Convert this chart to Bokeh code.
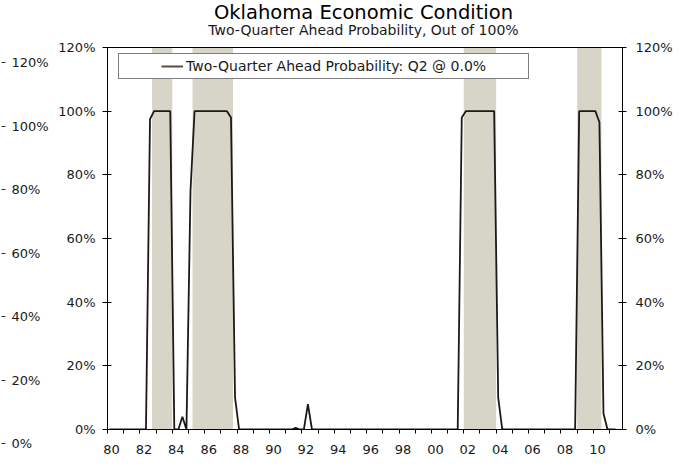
from bokeh.plotting import figure
from bokeh.models import (Range1d, LinearAxis, FixedTicker, PrintfTickFormatter,
                          Legend, LegendItem, Label, Span)
from bokeh.layouts import row
from bokeh.embed import file_html
from bokeh.resources import INLINE

# ---------------- data (quarterly, 1980Q1 .. 2011Q2) ----------------
first_year = 1980
prob = [
    0, 0, 0, 0,            # 1980
    0, 0, 0, 0,            # 1981
    0, 0, 97.5, 100,       # 1982
    100, 100, 100, 100,    # 1983
    0, 0, 4, 0,            # 1984
    75, 100, 100, 100,     # 1985
    100, 100, 100, 100,    # 1986
    100, 100, 98, 10,      # 1987
    0, 0, 0, 0,            # 1988
    0, 0, 0, 0,            # 1989
    0, 0, 0, 0,            # 1990
    0, 0, 0.5, 0,          # 1991
    0, 8, 0, 0,            # 1992
    0, 0, 0, 0,            # 1993
    0, 0, 0, 0,            # 1994
    0, 0, 0, 0,            # 1995
    0, 0, 0, 0,            # 1996
    0, 0, 0, 0,            # 1997
    0, 0, 0, 0,            # 1998
    0, 0, 0, 0,            # 1999
    0, 0, 0, 0,            # 2000
    0, 0, 0, 98,           # 2001
    100, 100, 100, 100,    # 2002
    100, 100, 100, 100,    # 2003
    10, 0, 0, 0,           # 2004
    0, 0, 0, 0,            # 2005
    0, 0, 0, 0,            # 2006
    0, 0, 0, 0,            # 2007
    0, 0, 0, 0,            # 2008
    100, 100, 100, 100,    # 2009
    100, 96.5, 5, 0,       # 2010
    0, 0,                  # 2011
]
recession_start = [1982.75, 1985.25, 2002.0, 2009.0]
recession_end = [1984.0, 1987.75, 2004.0, 2010.5]

y_ticks = [0, 20, 40, 60, 80, 100, 120]
y_max = 120
x_label_years = list(range(1980, 2011, 2))
x_tick_labels = ["80", "82", "84", "86", "88", "90", "92", "94", "96", "98",
                 "00", "02", "04", "06", "08", "10"]
x_minor_years = list(range(1980, 2012))

legend_label = "Two-Quarter Ahead Probability: Q2 @ 0.0%"
title_text = "Oklahoma Economic Condition"
subtitle_text = "Two-Quarter Ahead Probability, Out of 100%"

# quarter mid-points as decimal years
x = [first_year + 0.125 + 0.25 * i for i in range(len(prob))]

FONT = "DejaVu Sans"
TXT = "#1a1a1a"

# ---------------- outer (detached) left axis ----------------
pa = figure(width=52, height=475, x_range=Range1d(0, 1), y_range=Range1d(0, y_max),
            output_backend="svg", toolbar_location=None, frame_align=False,
            min_border_left=0, min_border_right=51, min_border_top=62, min_border_bottom=32,
            x_axis_location=None, y_axis_location="right")
pa.outline_line_color = None
pa.grid.visible = False
pa.title.visible = False
pa.yaxis.ticker = FixedTicker(ticks=y_ticks)
pa.yaxis.formatter = PrintfTickFormatter(format="%d%%")
pa.yaxis.axis_line_color = None
pa.yaxis.major_tick_in = 0
pa.yaxis.major_tick_out = 4
pa.yaxis.major_tick_line_color = "#333333"
pa.yaxis.minor_tick_in = 0
pa.yaxis.minor_tick_out = 0
pa.yaxis.major_label_standoff = 6
pa.yaxis.major_label_text_font = FONT
pa.yaxis.major_label_text_font_size = "13px"
pa.yaxis.major_label_text_color = TXT

# ---------------- main chart ----------------
# frame reaches the top of the canvas so the titles can sit inside it;
# the visible plot box is 0..120 % (47 px below the top)
H, TOP_GAP, BOTTOM = 475, 47, 46
frame_h = H - BOTTOM
y_top = y_max * frame_h / (frame_h - TOP_GAP)

p = figure(width=642, height=H, x_range=Range1d(1980, 2011.8), y_range=Range1d(0, y_top),
           output_backend="svg", toolbar_location=None, frame_align=False,
           min_border_left=55, min_border_right=72, min_border_top=0, min_border_bottom=BOTTOM)
p.outline_line_color = None
p.grid.visible = False
p.title.visible = False

p.quad(left=recession_start, right=recession_end, bottom=0, top=y_max,
       fill_color="#D7D4C8", line_color=None)
line_r = p.line(x, prob, line_color="#1c1917", line_width=1.8)
p.add_layout(Span(location=y_max, dimension="width", line_color="black", line_width=1))

# x axis
p.xaxis.ticker = FixedTicker(ticks=[yr + 0.25 for yr in x_label_years], minor_ticks=x_minor_years)
p.xaxis.major_label_overrides = {yr + 0.25: lab for yr, lab in zip(x_label_years, x_tick_labels)}
p.xaxis.major_tick_in = 0
p.xaxis.major_tick_out = 0
p.xaxis.minor_tick_in = 0
p.xaxis.minor_tick_out = 4
p.xaxis.minor_tick_line_color = "black"
p.xaxis.axis_line_color = "black"
p.xaxis.major_label_standoff = 11
p.xaxis.major_label_text_font = FONT
p.xaxis.major_label_text_font_size = "13px"
p.xaxis.major_label_text_color = TXT

# left y axis
p.yaxis.bounds = (0, y_max)
p.yaxis.ticker = FixedTicker(ticks=y_ticks)
p.yaxis.formatter = PrintfTickFormatter(format="%d%%")
p.yaxis.major_tick_in = 4
p.yaxis.major_tick_out = 5
p.yaxis.minor_tick_in = 0
p.yaxis.minor_tick_out = 0
p.yaxis.axis_line_color = "black"
p.yaxis.major_label_standoff = 7
p.yaxis.major_label_text_font = FONT
p.yaxis.major_label_text_font_size = "13px"
p.yaxis.major_label_text_color = TXT

# right y axis
ra = LinearAxis(bounds=(0, y_max), ticker=FixedTicker(ticks=y_ticks),
                formatter=PrintfTickFormatter(format="%d%%"),
                major_tick_in=4, major_tick_out=4, minor_tick_in=0, minor_tick_out=0,
                axis_line_color="black", major_label_standoff=9,
                major_label_text_font=FONT, major_label_text_font_size="13px",
                major_label_text_color=TXT)
p.add_layout(ra, "right")

# titles (screen units, measured from the frame's bottom-left)
p.add_layout(Label(x=256, y=frame_h - 12, x_units="screen", y_units="screen", text=title_text,
                   text_align="center", text_baseline="middle", text_font=FONT,
                   text_font_size="19.5px", text_color="black"))
p.add_layout(Label(x=256, y=frame_h - 29, x_units="screen", y_units="screen", text=subtitle_text,
                   text_align="center", text_baseline="middle", text_font=FONT,
                   text_font_size="14px", text_color=TXT))

# legend
nan = float("nan")
pad_l = p.line([nan], [nan], line_alpha=0)
pad_r = p.line([nan], [nan], line_alpha=0)
proxy = p.line([nan], [nan], line_color="#5b4a3e", line_width=2)
legend = Legend(items=[LegendItem(label=" ", renderers=[pad_l]),
                       LegendItem(label=legend_label, renderers=[proxy]),
                       LegendItem(label="    ", renderers=[pad_r])],
                orientation="horizontal", location=(11, frame_h - 79), margin=0,
                padding=4, spacing=0, glyph_width=22, glyph_height=16,
                label_width=13, label_height=16, label_standoff=3,
                border_line_color="black", border_line_width=1,
                background_fill_color="white", background_fill_alpha=1,
                label_text_font=FONT, label_text_font_size="14px", label_text_color=TXT)
p.add_layout(legend)

layout = row(pa, p)

open("out.html", "w").write(file_html(layout, INLINE))
